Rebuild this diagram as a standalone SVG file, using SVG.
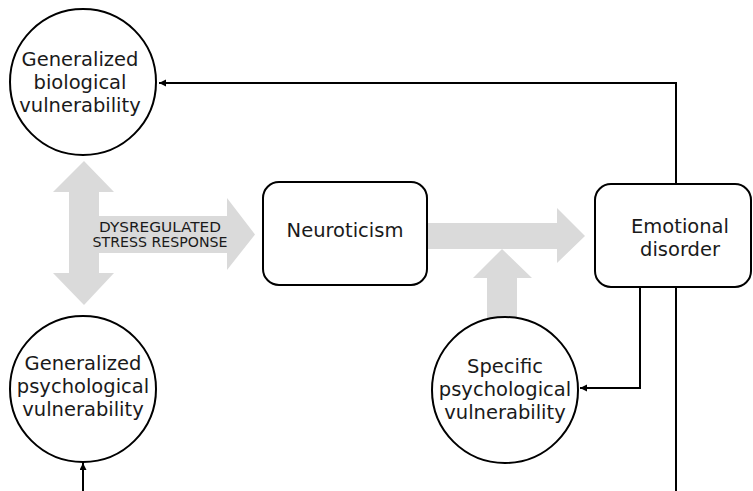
<svg xmlns="http://www.w3.org/2000/svg" width="753" height="491" viewBox="0 0 753 491">
<style>
.node{fill:#fff;stroke:#000;stroke-width:2}
.t{font-family:"DejaVu Sans","Noto Sans",sans-serif;font-size:19.5px;fill:#1a1a1a;text-anchor:middle}
.s{font-family:"DejaVu Sans","Noto Sans",sans-serif;font-size:14.5px;fill:#1a1a1a;text-anchor:middle}
.big{fill:#dadada}
.c{fill:none;stroke:#000;stroke-width:2}
</style>
<defs>
<marker id="ah" markerUnits="userSpaceOnUse" markerWidth="8" markerHeight="8" refX="7" refY="3.5" orient="auto">
<path d="M0,0 L7,3.5 L0,7 z" fill="#000"/>
</marker>
</defs>
<g id="gray-arrows">
<polygon class="big" points="84,161 114,192 99,192 99,216 227,216 227,198 255,234.5 227,270 227,253 99,253 99,273 114,273 84,305 53,273 69,273 69,192 53,192"/>
<polygon class="big" points="427,223 557,223 557,208 585,236 557,263 557,249 427,249"/>
<polygon class="big" points="502,249 532,278 517,278 517,318 487,318 487,278 473,278"/>
</g>
<g id="connectors">
<path class="c" d="M676,184 V83 H159" marker-end="url(#ah)"/>
<path class="c" d="M640,287 V388 H580" marker-end="url(#ah)"/>
<path class="c" d="M676,287 V491"/>
<path class="c" d="M83,491 V463" marker-end="url(#ah)"/>
</g>
<g id="gen-bio">
<circle class="node" cx="83" cy="82" r="73"/>
<text class="t" x="80" y="66">Generalized</text>
<text class="t" x="80" y="89">biological</text>
<text class="t" x="80" y="112">vulnerability</text>
</g>
<g id="gen-psych">
<circle class="node" cx="83" cy="389" r="73"/>
<text class="t" x="83" y="370">Generalized</text>
<text class="t" x="83" y="393">psychological</text>
<text class="t" x="83" y="416">vulnerability</text>
</g>
<g id="stress-label">
<text class="s" x="160" y="232" textLength="122" lengthAdjust="spacingAndGlyphs">DYSREGULATED</text>
<text class="s" x="160" y="247" textLength="135" lengthAdjust="spacingAndGlyphs">STRESS RESPONSE</text>
</g>
<g id="neuroticism">
<rect class="node" x="263" y="182" width="164" height="103" rx="16"/>
<text class="t" x="345" y="237">Neuroticism</text>
</g>
<g id="emotional">
<rect class="node" x="595" y="184" width="156" height="103" rx="16"/>
<text class="t" x="680" y="233">Emotional</text>
<text class="t" x="680" y="256">disorder</text>
</g>
<g id="specific">
<circle class="node" cx="505" cy="390" r="73"/>
<text class="t" x="505" y="372.5">Specific</text>
<text class="t" x="505" y="395.5">psychological</text>
<text class="t" x="505" y="418.5">vulnerability</text>
</g>
</svg>
